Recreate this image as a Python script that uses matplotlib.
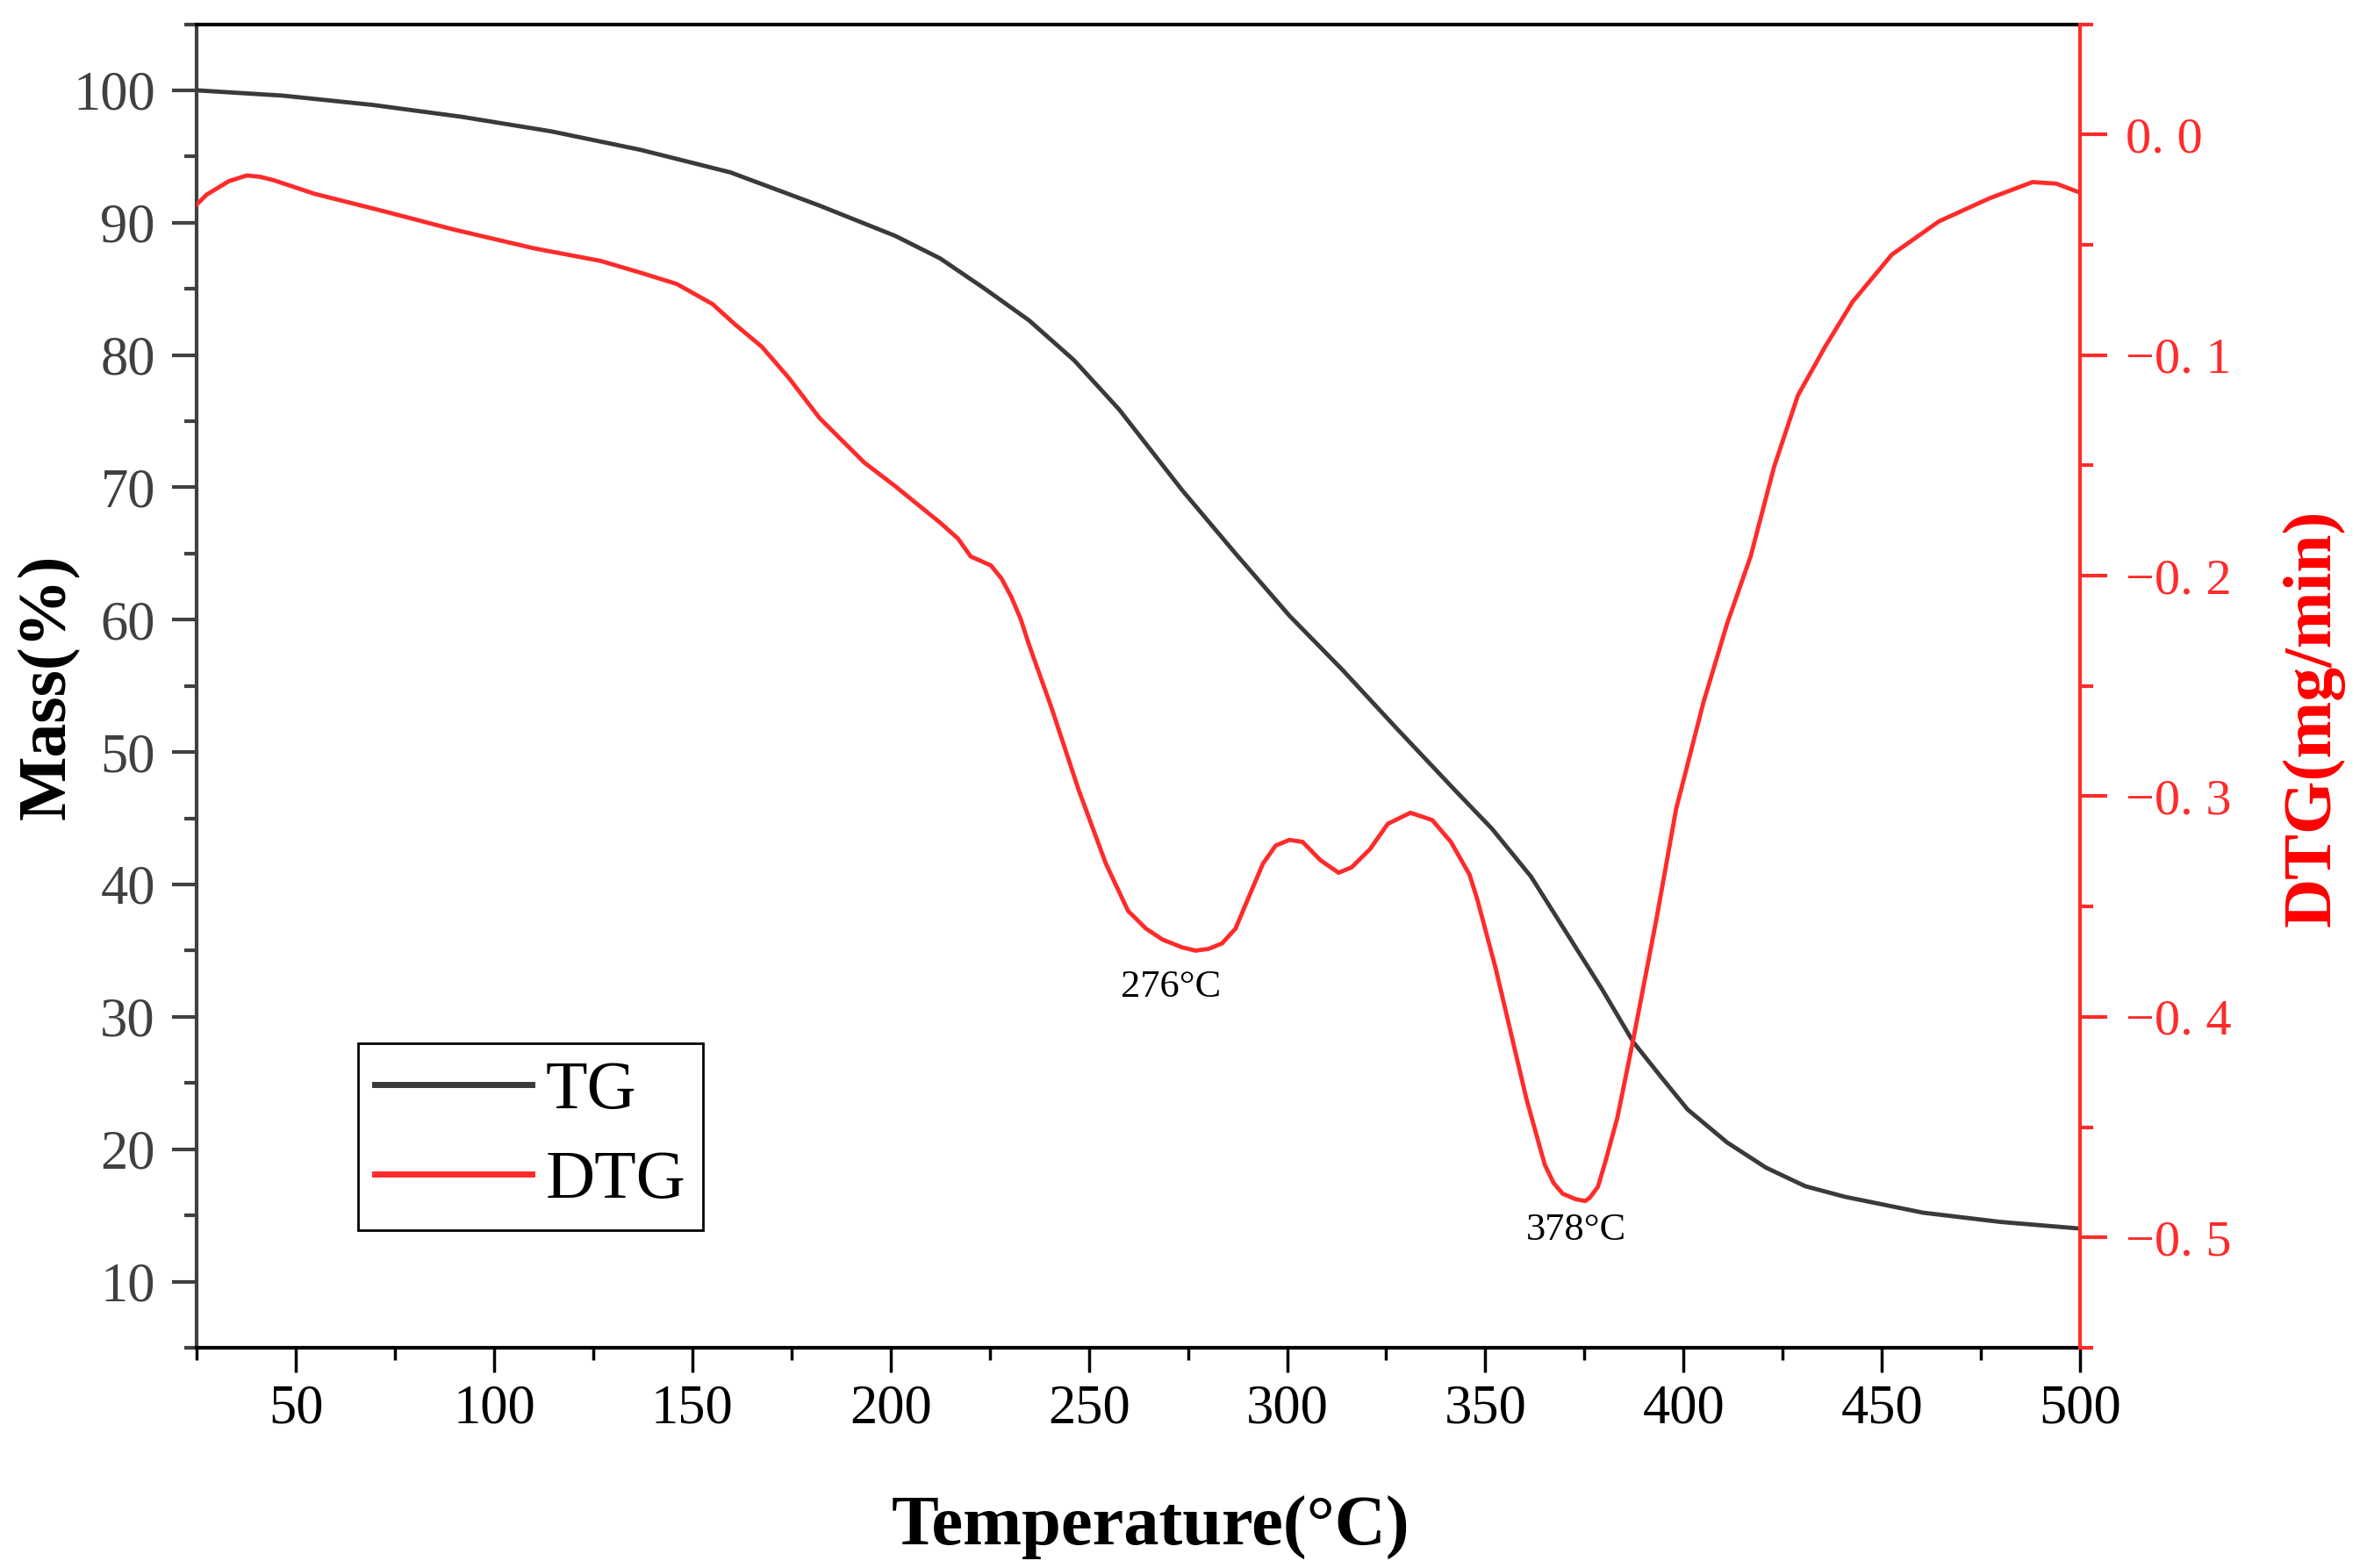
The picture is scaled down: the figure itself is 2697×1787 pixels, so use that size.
import matplotlib
matplotlib.use('Agg')
import matplotlib.pyplot as plt
from matplotlib.ticker import MultipleLocator

plt.rcParams['font.family'] = ['Liberation Serif', 'DejaVu Serif']

# TG curve (temperature in degC, mass in %)
tg_temp = [25, 46.7, 69.3, 91.8, 114.4, 137, 159.6, 182, 201.2, 212.5, 223.8, 235,
           246.3, 257.6, 273.5, 287, 300.6, 314, 327.6, 342.4, 351.7, 361.5, 371.4,
           379.4, 387.3, 394.2, 401, 411, 420.8, 430.7, 440.7, 460.4, 480, 500]
tg_mass = [100, 99.6, 98.9, 98.0, 96.9, 95.5, 93.8, 91.3, 89.0, 87.3, 85.0, 82.6,
           79.6, 75.9, 69.8, 65.0, 60.3, 56.2, 51.8, 47.1, 44.2, 40.6, 35.9,
           32.1, 28.1, 25.5, 23.0, 20.5, 18.6, 17.2, 16.4, 15.2, 14.5, 14.0]

# DTG curve (temperature in degC, mg/min)
dtg_temp = [25, 27.5, 33.1, 37.6, 41, 44.5, 54.7, 72.6, 89.6, 110, 126.8, 137,
            146.1, 155.1, 160.7, 167.5, 174.3, 182.1, 193.4, 201.2, 212.5, 217,
            220.2, 222.7, 225.3, 228, 230.4, 232.8, 235, 240.6, 247.4, 254.3,
            259.9, 264.4, 268.6, 273.5, 276.9, 280.2, 283.6, 287, 290.4, 293.9,
            297.1, 300.6, 303.9, 308.4, 313, 316.3, 320.9, 325.4, 331.1, 336.6,
            341.3, 346, 348, 352.6, 360.4, 365, 367.2, 369.5, 372.8, 375.2, 376.4,
            378.4, 380.3, 383.3, 387.3, 393.2, 398.1, 405, 411, 416.9, 422.8,
            428.8, 435.7, 442.6, 452.5, 464.4, 477.2, 488, 494, 500]
dtg_val = [-0.0318, -0.0273, -0.0212, -0.0186, -0.0192, -0.0208, -0.0269, -0.0350,
           -0.0430, -0.0516, -0.0573, -0.0627, -0.0678, -0.0769, -0.0860, -0.0962,
           -0.1103, -0.1286, -0.1488, -0.1595, -0.176, -0.1832, -0.1913, -0.1933,
           -0.1954, -0.2014, -0.2095, -0.2196, -0.2318, -0.260, -0.2970, -0.3306,
           -0.352, -0.360, -0.365, -0.3685, -0.370, -0.3692, -0.3667, -0.360,
           -0.3454, -0.3306, -0.3224, -0.3198, -0.3207, -0.329, -0.3347, -0.3322,
           -0.324, -0.3125, -0.3075, -0.3108, -0.3207, -0.3355, -0.347, -0.378,
           -0.4375, -0.4671, -0.4753, -0.4802, -0.4827, -0.4835, -0.4819, -0.477,
           -0.4655, -0.4457, -0.4103, -0.3552, -0.3059, -0.2575, -0.2216, -0.1913,
           -0.1508, -0.1184, -0.0962, -0.0759, -0.0545, -0.0394, -0.0289, -0.0216,
           -0.0223, -0.0264]

# tick labels and peak annotations
x_ticks = [50, 100, 150, 200, 250, 300, 350, 400, 450, 500]
mass_ticks = [10, 20, 30, 40, 50, 60, 70, 80, 90, 100]
dtg_ticks = [0.0, -0.1, -0.2, -0.3, -0.4, -0.5]
dtg_labels = ['0. 0', '\u22120. 1', '\u22120. 2', '\u22120. 3', '\u22120. 4', '\u22120. 5']
peak_text = ['276\u00b0C', '378\u00b0C']
peak_pos = [(270.7, -0.3865), (373.0, -0.4966)]

gray = '#404040'
red = '#ff2b2b'

fig = plt.figure(figsize=(26.97, 17.87), dpi=100)
ax = fig.add_axes([0.0831, 0.1405, 0.7957, 0.8441])
ax2 = ax.twinx()

l1, = ax.plot(tg_temp, tg_mass, color='#3a3a3a', lw=3.5, label='TG', zorder=3)
l2, = ax2.plot(dtg_temp, dtg_val, color=red, lw=3.5, label='DTG')

ax.set_xlim(25, 500)
ax.set_ylim(5, 105)
ax2.set_ylim(-0.55, 0.05)

ax.set_xticks(x_ticks)
ax.xaxis.set_minor_locator(MultipleLocator(25))
ax.set_yticks(mass_ticks)
ax.yaxis.set_minor_locator(MultipleLocator(5))
ax2.set_yticks(dtg_ticks)
ax2.set_yticklabels(dtg_labels)
ax2.yaxis.set_minor_locator(MultipleLocator(0.05))

# spines
ax.spines['right'].set_visible(False)
ax.spines['top'].set_color('black')
ax.spines['bottom'].set_color('black')
ax.spines['left'].set_color(gray)
for s in ['top', 'bottom', 'left', 'right']:
    ax.spines[s].set_linewidth(3)
for s in ['top', 'bottom', 'left']:
    ax2.spines[s].set_visible(False)
ax2.spines['right'].set_color(red)
ax2.spines['right'].set_linewidth(3)

ax.tick_params(axis='x', which='both', direction='out', top=False, colors='black',
               labelsize=45, pad=10)
ax.tick_params(axis='x', which='major', length=20, width=2.5)
ax.tick_params(axis='x', which='minor', length=10, width=2.5)
ax.tick_params(axis='y', which='both', direction='out', right=False, color=gray,
               labelcolor=gray, labelsize=45, pad=14)
ax.tick_params(axis='y', which='major', length=20, width=3)
ax.tick_params(axis='y', which='minor', length=10, width=3)
ax2.tick_params(axis='y', which='both', direction='out', color=red,
                labelcolor=red, labelsize=42, pad=15)
ax2.tick_params(axis='y', which='major', length=22, width=3)
ax2.tick_params(axis='y', which='minor', length=11, width=3)

for txt, (x, y) in zip(peak_text, peak_pos):
    ax2.text(x, y, txt, fontsize=32, ha='center', va='center', color='black')

fig.text(0.4861, 0.0257, 'Temperature(\u00b0C)', fontsize=58, fontweight='bold',
         ha='center', va='center')
fig.text(0.0204, 0.5618, 'Mass(%)', fontsize=56, fontweight='bold', rotation=90,
         ha='center', va='center')
fig.text(0.9775, 0.5418, 'DTG(mg/min)', fontsize=56, fontweight='bold', rotation=90,
         ha='center', va='center', color='red')

leg = ax2.legend(handles=[l1, l2], loc='upper left', bbox_to_anchor=(0.0857, 0.2301),
                 borderaxespad=0, fontsize=56, handlelength=2.3, handletextpad=0.2,
                 labelspacing=0.4, borderpad=0.25, fancybox=False, framealpha=1)
leg.get_frame().set_edgecolor('black')
leg.get_frame().set_linewidth(2)
for h in leg.get_lines():
    h.set_linewidth(5)

fig.savefig('out.png', dpi=100)
